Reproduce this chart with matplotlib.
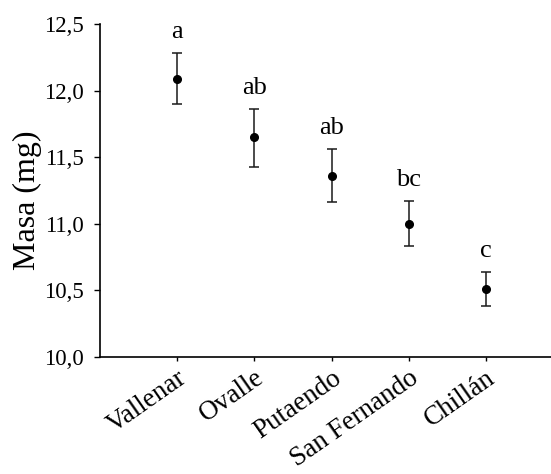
import matplotlib
matplotlib.use('Agg')
import matplotlib.pyplot as plt
from matplotlib.ticker import FuncFormatter

# data
sites   = ['Vallenar', 'Ovalle', 'Putaendo', 'San Fernando', 'Chillán']
means   = [12.09, 11.65, 11.36, 11.00, 10.51]
err_up  = [0.19, 0.21, 0.20, 0.17, 0.125]
err_lo  = [0.19, 0.22, 0.20, 0.17, 0.125]
letters = ['a', 'ab', 'ab', 'bc', 'c']
yticks  = [10.0, 10.5, 11.0, 11.5, 12.0, 12.5]

plt.rcParams['font.family'] = ['Liberation Serif', 'DejaVu Serif']

fig = plt.figure(figsize=(5.51, 4.74), dpi=100)
ax = fig.add_axes([100/551, 1 - 357/474, 463/551, 333/474])

pos = list(range(1, len(sites) + 1))
ax.errorbar(pos, means, yerr=[err_lo, err_up], fmt='o', color='black',
            ecolor='#1a1a1a', elinewidth=1.1, capsize=3.6, capthick=1.1,
            markersize=5.5)

for x, m, e, lab in zip(pos, means, err_up, letters):
    ax.annotate(lab, (x, m + e), xytext=(0, 11), textcoords='offset points',
                ha='center', va='baseline', fontsize=19)

ax.set_xlim(0, 6)
ax.set_ylim(10.0, 12.5)
ax.set_yticks(yticks)
ax.yaxis.set_major_formatter(FuncFormatter(lambda v, p: ('%.1f' % v).replace('.', ',')))
ax.set_xticks(pos)
ax.set_xticklabels(sites, rotation=35, ha='right', va='top',
                   rotation_mode='anchor', fontsize=19.5)
ax.tick_params(axis='y', labelsize=16.5, direction='out', length=4, width=1, pad=8)
ax.tick_params(axis='x', direction='out', length=3, width=1, pad=3)
ax.set_ylabel('Masa (mg)', fontsize=23)
ax.yaxis.set_label_coords(-0.125, 0.47)

for s in ['top', 'right']:
    ax.spines[s].set_visible(False)
ax.spines['left'].set_linewidth(1.2)
ax.spines['bottom'].set_linewidth(1.2)

fig.savefig('out.png', dpi=100)
